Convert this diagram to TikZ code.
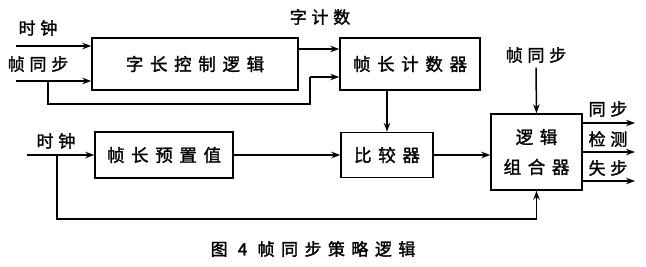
\documentclass[tikz,border=0pt]{standalone}
\usepackage{fontspec}
\usepackage{tikz}
\usetikzlibrary{arrows.meta,calc}
\newfontfamily\cjkbox[LetterSpace=38,FakeBold=1.6]{Noto Sans CJK SC}
\newfontfamily\cjklbl[LetterSpace=28,FakeBold=1.6]{Noto Sans CJK SC}
\colorlet{figink}{black}

\begin{document}
\begin{tikzpicture}[
  x=1pt, y=-1pt,
  line width=1.5pt,
  figbox/.style={draw=figink, rectangle, inner sep=0pt, align=center,
    font=\cjkbox\fontsize{17.5}{30}\selectfont},
  figlbl/.style={inner sep=0pt, font=\cjklbl\fontsize{17}{18}\selectfont},
  sig/.style={draw=figink, -{Stealth[length=9pt,width=6.5pt]}},
  wire/.style={draw=figink},
]
  \useasboundingbox (0,0) rectangle (646,266);

  % blocks
  \node[figbox, minimum width=206pt, minimum height=52pt] (wordctl) at (195,64) {字长控制逻辑};
  \node[figbox, minimum width=140pt, minimum height=52pt] (framecnt) at (410,64) {帧长计数器};
  \node[figbox, minimum width=138pt, minimum height=46pt] (preset) at (164,155) {帧长预置值};
  \node[figbox, minimum width=92pt, minimum height=45pt] (cmp) at (387,155) {比较器};
  \node[figbox, minimum width=91pt, minimum height=76pt] (logic) at (536.5,152) {逻辑\\组合器};

  % labels
  \node[figlbl] (clkA) at (38,28) {时钟};
  \node[figlbl] (syncA) at (38,64) {帧同步};
  \node[figlbl] (clkB) at (56,141) {时钟};
  \node[figlbl] (wordnum) at (320,17) {字计数};
  \node[figlbl] (syncB) at (536,55) {帧同步};
  \node[figlbl] (outA) at (608,109) {同步};
  \node[figlbl] (outB) at (608,139) {检测};
  \node[figlbl] (outC) at (608,168) {失步};

  % free ends
  \coordinate (inA) at (16,46);
  \coordinate (inB) at (16,81);
  \coordinate (inC) at (27,155);
  \coordinate (tapA) at (48,81);
  \coordinate (tapB) at (57,155);

  % connectors
  \draw[sig] (inA) -- (inA -| wordctl.west);
  \draw[sig] (inB) -- (inB -| wordctl.west);
  \draw[wire] (tapA) -- (48,104) -- (310,104) -- (310,77);
  \draw[sig] (310,77) -- (framecnt.west |- 0,77);
  \draw[sig] (wordctl.east |- 0,49) -- (framecnt.west |- 0,49);
  \draw[sig] (cmp.north |- framecnt.south) -- (cmp.north);
  \draw[sig] (inC) -- (preset.west);
  \draw[sig] (preset.east) -- (cmp.west);
  \draw[wire] (tapB) -- (57,219) -- (logic.south |- 0,219);
  \draw[sig] (logic.south |- 0,219) -- (logic.south);
  \draw[sig] (cmp.east) -- (cmp.east -| logic.west);
  \draw[sig] (syncB.south) ++(0,4) -- (logic.north);
  \foreach \yy in {123,152,181} {
    \draw[sig] (logic.east |- 0,\yy) -- (635,\yy);
  }

  % caption
  \node[figlbl, font=\cjkbox\fontsize{17}{18}\selectfont] (caption) at (313,249) {图 4 帧同步策略逻辑};
\end{tikzpicture}
\end{document}
